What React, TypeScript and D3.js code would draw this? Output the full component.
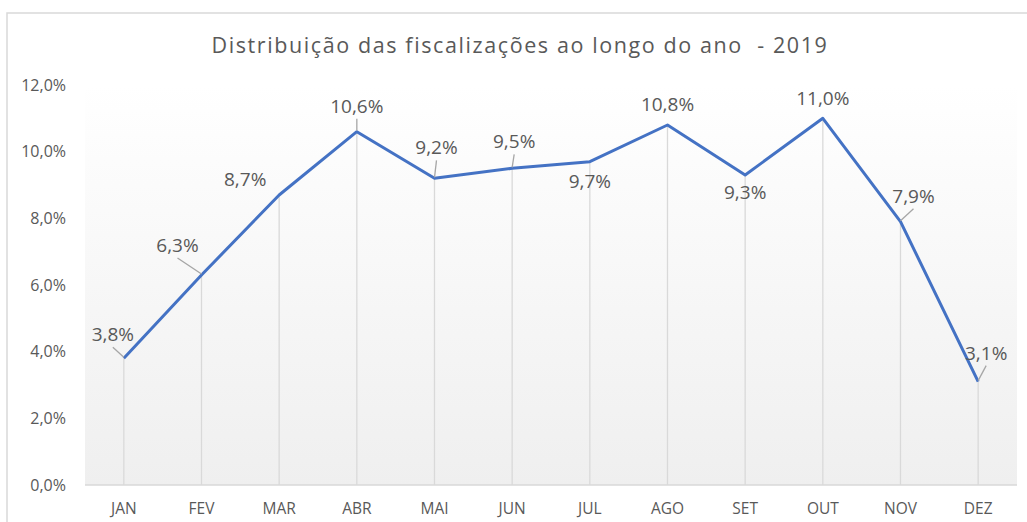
import React from "react";
import * as d3 from "d3";

const months = ["JAN", "FEV", "MAR", "ABR", "MAI", "JUN", "JUL", "AGO", "SET", "OUT", "NOV", "DEZ"];
const shares = [3.8, 6.3, 8.7, 10.6, 9.2, 9.5, 9.7, 10.8, 9.3, 11.0, 7.9, 3.1];
const yTicks = [0, 2, 4, 6, 8, 10, 12];
const title = "Distribuição das fiscalizações ao longo do ano  - 2019";

// where Excel dropped each data label, relative to its point (label centre, leader yes/no)
const labelOffsets = [
  { dx: -11, dy: -24, leader: true },
  { dx: -24, dy: -30, leader: true },
  { dx: -34, dy: -16, leader: false },
  { dx: 0, dy: -26, leader: true },
  { dx: 2, dy: -31, leader: true },
  { dx: 2, dy: -27, leader: true },
  { dx: 0, dy: 19, leader: false },
  { dx: 0, dy: -21, leader: false },
  { dx: 0, dy: 17, leader: false },
  { dx: 0, dy: -20, leader: false },
  { dx: 13, dy: -26, leader: true },
  { dx: 8, dy: -29, leader: true },
];

const fmt = (v: number) => v.toFixed(1).replace(".", ",") + "%";

const App = () => {
  const W = 1027;
  const H = 522;
  const left = 85, right = 1017, top = 85, bottom = 485;

  const x = d3.scaleBand().domain(months).range([left, right]);
  const y = d3.scaleLinear().domain([0, 12]).range([bottom, top]);
  const cx = (m: string) => (x(m) as number) + x.bandwidth() / 2;

  const line = d3
    .line<number>()
    .x((_, i) => cx(months[i]))
    .y((d) => y(d));

  const font = "'Open Sans', 'Noto Sans', sans-serif";
  const grey = "#595959";

  return (
    <svg width={W} height={H} style={{ position: "absolute", left: 0, top: 0, background: "#fff" }}>
      <defs>
        <linearGradient id="plotBg" x1="0" y1="0" x2="0" y2="1">
          <stop offset="0" stopColor="#ffffff" />
          <stop offset="1" stopColor="#efefef" />
        </linearGradient>
      </defs>
      <rect x={7} y={13} width={1030} height={530} fill="#fff" stroke="#d9d9d9" strokeWidth={1.5} />
      <rect x={left} y={top} width={right - left} height={bottom - top} fill="url(#plotBg)" />

      <text
        x={520}
        y={53}
        textAnchor="middle"
        fontFamily={font}
        fontSize={21.5}
        letterSpacing={1.6}
        fill={grey}
        style={{ whiteSpace: "pre" }}
      >
        {title}
      </text>

      {yTicks.map((t) => (
        <text key={t} x={66} y={y(t) + 5.5} textAnchor="end" fontFamily={font} fontSize={16} fill={grey}>
          {fmt(t)}
        </text>
      ))}

      {months.map((m) => (
        <text key={m} x={cx(m)} y={514} textAnchor="middle" fontFamily={font} fontSize={15.5} fill={grey}>
          {m}
        </text>
      ))}

      {shares.map((v, i) => (
        <line key={i} x1={cx(months[i])} x2={cx(months[i])} y1={y(v)} y2={bottom} stroke="#d9d9d9" strokeWidth={1.3} />
      ))}
      <line x1={left} x2={right} y1={bottom} y2={bottom} stroke="#d9d9d9" strokeWidth={1.5} />

      <path d={line(shares) || ""} fill="none" stroke="#4472C4" strokeWidth={3} strokeLinejoin="round" />

      {shares.map((v, i) => {
        const px = cx(months[i]);
        const py = y(v);
        const o = labelOffsets[i];
        const lx = px + o.dx;
        const ly = py + o.dy;
        // leader runs from just under the label back to the point
        const ey = ly + 13;
        return (
          <g key={i}>
            {o.leader && (
              <line x1={o.dx === 0 ? px : lx} y1={ey} x2={px} y2={py - 1} stroke="#a6a6a6" strokeWidth={1.3} />
            )}
            <text x={lx} y={ly + 7} textAnchor="middle" fontFamily={font} fontSize={19} fill={grey}>
              {fmt(v)}
            </text>
          </g>
        );
      })}
    </svg>
  );
};

export default App;
